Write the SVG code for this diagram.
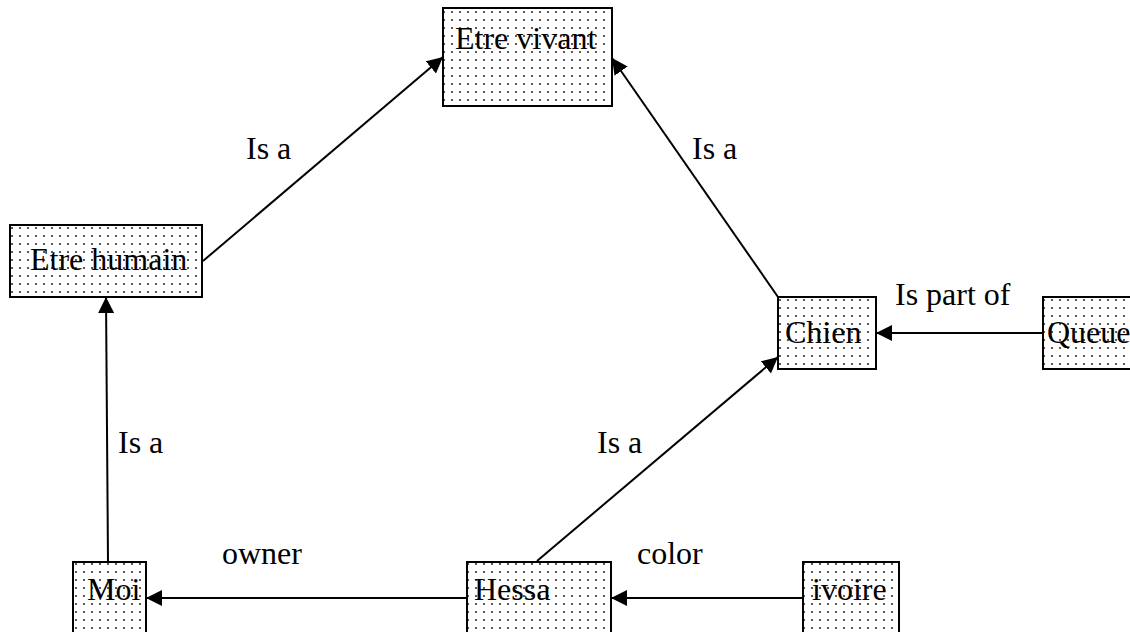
<svg xmlns="http://www.w3.org/2000/svg" width="1130" height="632" viewBox="0 0 1130 632">
<defs>
<pattern id="dots" x="0" y="0" width="8" height="8" patternUnits="userSpaceOnUse">
<rect width="8" height="8" fill="#fff"/>
<circle cx="4" cy="4" r="1.1" fill="#333"/>
</pattern>
<marker id="arr" viewBox="0 0 10 10" refX="10" refY="5" markerWidth="8" markerHeight="8" markerUnits="strokeWidth" orient="auto">
<path d="M0,0 L10,5 L0,10 z" fill="#000"/>
</marker>
<style>
.box{fill:url(#dots);stroke:#000;stroke-width:2}
.t{font-family:"Liberation Serif","Times New Roman",serif;font-size:32px;fill:#000}
.c{stroke:#000;stroke-width:2;fill:none;marker-end:url(#arr)}
</style>
</defs>
<g id="connectors">
<line class="c" x1="203" y1="261" x2="443" y2="57"/>
<line class="c" x1="778" y1="297" x2="612" y2="58"/>
<line class="c" x1="108" y1="562" x2="106" y2="297"/>
<line class="c" x1="537" y1="561" x2="778" y2="357"/>
<line class="c" x1="1043" y1="333" x2="876" y2="333"/>
<line class="c" x1="467" y1="598" x2="146" y2="598"/>
<line class="c" x1="803" y1="598" x2="611" y2="598"/>
<text class="t" x="246" y="159">Is a</text>
<text class="t" x="692" y="159">Is a</text>
<text class="t" x="895" y="305">Is part of</text>
<text class="t" x="118" y="453">Is a</text>
<text class="t" x="597" y="453">Is a</text>
<text class="t" x="222" y="564">owner</text>
<text class="t" x="637" y="564">color</text>
</g>
<g id="etre-vivant"><rect class="box" x="443" y="8" width="169" height="98"/><text class="t" x="455" y="49">Etre vivant</text></g>
<g id="etre-humain"><rect class="box" x="10" y="225" width="192" height="72"/><text class="t" x="30" y="270">Etre humain</text></g>
<g id="chien"><rect class="box" x="778" y="297" width="98" height="72"/><text class="t" x="785" y="343">Chien</text></g>
<g id="queue"><rect class="box" x="1043" y="297" width="90" height="72"/><text class="t" x="1047" y="343">Queue</text></g>
<g id="moi"><rect class="box" x="73" y="562" width="73" height="80"/><text class="t" x="87" y="600">Moi</text></g>
<g id="hessa"><rect class="box" x="467" y="562" width="144" height="80"/><text class="t" x="474" y="600">Hessa</text></g>
<g id="ivoire"><rect class="box" x="803" y="562" width="96" height="80"/><text class="t" x="812" y="600">ivoire</text></g>
</svg>
